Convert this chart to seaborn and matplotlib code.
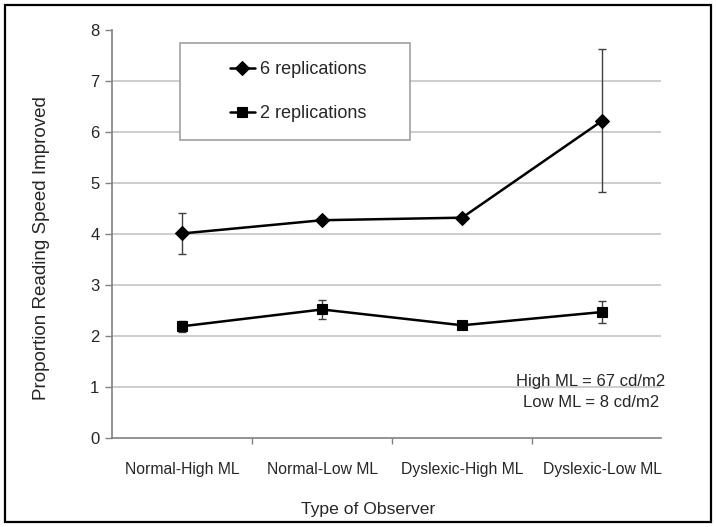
import pandas as pd
import seaborn as sns
import matplotlib.pyplot as plt
from matplotlib.patches import Rectangle

observers = ['Normal-High ML', 'Normal-Low ML', 'Dyslexic-High ML', 'Dyslexic-Low ML']
six_reps = [4.01, 4.27, 4.32, 6.22]
six_err = [0.40, 0.0, 0.0, 1.40]
two_reps = [2.19, 2.52, 2.21, 2.47]
two_err = [0.11, 0.18, 0.05, 0.21]
y_ticks = [0, 1, 2, 3, 4, 5, 6, 7, 8]

sns.set_style('white')
plt.rcParams['font.family'] = ['Liberation Sans', 'DejaVu Sans']

df = pd.DataFrame({
    'observer': observers * 2,
    'value': six_reps + two_reps,
    'series': ['6 replications'] * 4 + ['2 replications'] * 4,
})

fig = plt.figure(figsize=(7.16, 5.27), dpi=100)
ax = fig.add_axes([0.1564, 0.1689, 0.7668, 0.7742])

ax.set_yticks(y_ticks)
for y in y_ticks[1:-1]:
    ax.axhline(y, color='#c0c0c0', lw=1.1, zorder=0)

sns.lineplot(data=df, x='observer', y='value', style='series',
             markers={'6 replications': 'D', '2 replications': 's'},
             dashes=False, color='black', linewidth=1.8, markersize=7,
             markeredgecolor='black', markeredgewidth=0.8,
             ax=ax, zorder=3)

ax.errorbar(observers, six_reps, yerr=six_err, fmt='none', ecolor='#404040',
            elinewidth=1.0, capsize=3, capthick=1.0, zorder=2)
ax.errorbar(observers, two_reps, yerr=two_err, fmt='none', ecolor='#404040',
            elinewidth=1.0, capsize=3, capthick=1.0, zorder=2)

ax.set_xlim(-0.5, 3.42)
ax.set_ylim(0, 8)

for side in ['top', 'right']:
    ax.spines[side].set_visible(False)
for side in ['left', 'bottom']:
    ax.spines[side].set_color('#808080')
    ax.spines[side].set_linewidth(1.2)

ax.tick_params(axis='y', which='both', left=True, length=5, width=1, color='#808080',
               labelsize=12, pad=4)
ax.set_yticklabels([str(t) for t in y_ticks])
ax.set_xticks([0.5, 1.5, 2.5], minor=True)
ax.tick_params(axis='x', which='major', bottom=False, labelsize=11.3, pad=14)
ax.tick_params(axis='x', which='minor', bottom=True, length=4, width=1, color='#808080')

ax.set_xlabel('Type of Observer', fontsize=12.6)
ax.xaxis.set_label_coords(0.466, -0.157)
ax.set_ylabel('Proportion Reading Speed Improved', fontsize=13.5)
ax.yaxis.set_label_coords(-0.113, 0.466)

ax.text(2.92, 1.1, 'High ML = 67 cd/m2', ha='center', va='center', fontsize=12)
ax.text(2.92, 0.69, 'Low ML = 8 cd/m2', ha='center', va='center', fontsize=12)

# legend box drawn over the gridlines
box = Rectangle((0.124, 0.730), 0.419, 0.238, transform=ax.transAxes,
                facecolor='white', edgecolor='#a0a0a0', lw=1.2, zorder=4)
ax.add_patch(box)
handles, labels = ax.get_legend_handles_labels()
ax.get_legend().remove()
leg = ax.legend(handles, labels, loc='center', bbox_to_anchor=(0.339, 0.849),
                frameon=False, fontsize=13, handlelength=1.4, handletextpad=0.3,
                labelspacing=1.5)
leg.set_zorder(5)

fig.patches.append(Rectangle((0.007, 0.0095), 0.986, 0.981, transform=fig.transFigure,
                             fill=False, edgecolor='black', lw=1.6))

fig.savefig('out.png', dpi=100)
